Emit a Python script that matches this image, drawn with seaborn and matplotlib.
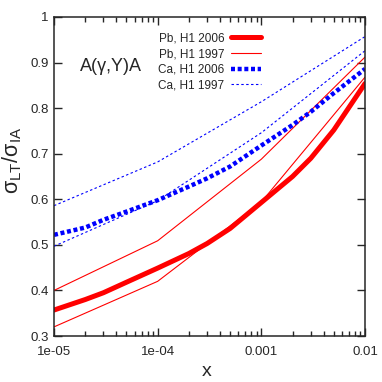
import numpy as np
import pandas as pd
import matplotlib
matplotlib.use("Agg")
import matplotlib.pyplot as plt
from matplotlib.ticker import LogLocator, NullFormatter
import seaborn as sns

sns.set_style("ticks")
plt.rcParams['font.family'] = ['Liberation Sans', 'DejaVu Sans']
plt.rcParams['mathtext.fontset'] = 'custom'
plt.rcParams['mathtext.rm'] = 'Liberation Sans'
plt.rcParams['mathtext.sf'] = 'Liberation Sans'

# x grid (log scale)
x_smooth = [1e-5, 2e-5, 3e-5, 5e-5, 1e-4, 2e-4, 3e-4, 5e-4, 1e-3, 2e-3, 3e-3, 5e-3, 1e-2]
x_coarse = [1e-5, 1e-4, 1e-3, 1e-2]

# Pb
pb_2006 = [0.357, 0.380, 0.395, 0.418, 0.449, 0.481, 0.503, 0.536, 0.593, 0.650, 0.690, 0.752, 0.854]
pb_1997_hi = [0.400, 0.509, 0.688, 0.912]
pb_1997_lo = [0.320, 0.420, 0.594, 0.868]

# Ca
ca_2006 = [0.522, 0.538, 0.555, 0.573, 0.598, 0.628, 0.646, 0.672, 0.718, 0.763, 0.792, 0.833, 0.886]
ca_1997_hi = [0.586, 0.682, 0.814, 0.957]
ca_1997_lo = [0.497, 0.597, 0.746, 0.926]

x_ticks = [1e-5, 1e-4, 1e-3, 1e-2]
x_ticklabels = ["1e-05", "1e-04", "0.001", "0.01"]
y_ticks = [0.3, 0.4, 0.5, 0.6, 0.7, 0.8, 0.9, 1.0]
y_ticklabels = ["0.3", "0.4", "0.5", "0.6", "0.7", "0.8", "0.9", "1"]

fig = plt.figure(figsize=(3.82, 3.82), dpi=100)
ax = fig.add_axes([0.1414, 0.1204, 0.8141, 0.8351])

red = "#ff0000"
blue = "#0000ff"

sns.lineplot(x=x_smooth, y=pb_2006, ax=ax, color=red, lw=3.6, label="Pb, H1 2006", sort=False)
sns.lineplot(x=x_coarse, y=pb_1997_hi, ax=ax, color=red, lw=0.8, label="Pb, H1 1997", sort=False)
sns.lineplot(x=x_coarse, y=pb_1997_lo, ax=ax, color=red, lw=0.8, sort=False)
sns.lineplot(x=x_smooth, y=ca_2006, ax=ax, color=blue, lw=3.2, label="Ca, H1 2006", sort=False,
             linestyle=(0, (0.9, 0.6)))
sns.lineplot(x=x_coarse, y=ca_1997_hi, ax=ax, color=blue, lw=0.8, label="Ca, H1 1997", sort=False,
             linestyle=(0, (2.2, 2.2)))
sns.lineplot(x=x_coarse, y=ca_1997_lo, ax=ax, color=blue, lw=0.8, sort=False,
             linestyle=(0, (2.2, 2.2)))

ax.set_xscale("log")
ax.set_xlim(1e-5, 1e-2)
ax.set_ylim(0.3, 1.0)
ax.set_xticks(x_ticks)
ax.set_xticklabels(x_ticklabels)
ax.xaxis.set_minor_locator(LogLocator(base=10, subs=np.arange(2, 10)))
ax.xaxis.set_minor_formatter(NullFormatter())
ax.set_yticks(y_ticks)
ax.set_yticklabels(y_ticklabels)
ax.tick_params(axis="both", which="both", direction="in", top=True, right=True, labelsize=9.5)
ax.tick_params(which="major", length=6, width=1)
ax.tick_params(which="minor", length=3.5, width=1)
ax.tick_params(axis="x", which="both", pad=7)
ax.tick_params(axis="y", pad=4)
for s in ax.spines.values():
    s.set_linewidth(1.1)

ax.set_xlabel("x", fontsize=14)
ax.xaxis.set_label_coords(0.492, -0.085)
ax.set_ylabel("σ$_{\\mathrm{LT}}$/σ$_{\\mathrm{IA}}$", fontsize=15.5)
ax.yaxis.set_label_coords(-0.095, 0.552)

ax.text(0.183, 0.845, "A(γ,Y)A", transform=ax.transAxes, fontsize=13,
        ha="center", va="center")

leg = ax.legend(loc="upper right", bbox_to_anchor=(0.682, 0.966), frameon=False,
                markerfirst=False, fontsize=8.5, handlelength=2.6,
                labelspacing=0.3, handletextpad=0.55, borderaxespad=0)
for t in leg.get_texts():
    t.set_ha("right")

fig.savefig("out.png", dpi=100)
